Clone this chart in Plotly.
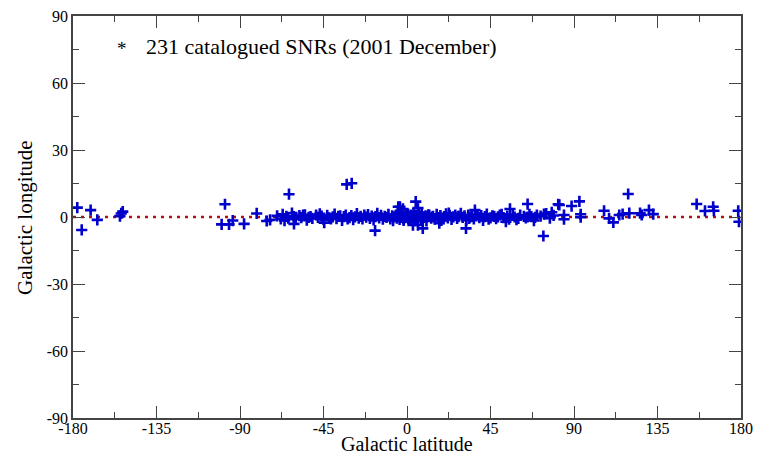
import plotly.graph_objects as go

# Galactic coordinates of catalogued SNRs (x axis labelled "Galactic latitude", y axis "Galactic longitude")
gal_x = [
    -177.7, -175.3, -170.5, -166.9, -154.7, -153.2, -154.0,
    -98.1, -99.9, -95.9, -93.9, -87.8, -81.0, -75.6, -73.8, -63.6, -32.5, -29.8, -60.9, -17.2, -44.6,
    -4.7, -3.8, -2.2, 4.7, 5.9, 3.2, 5.9, 8.5, 36.6, 31.8, 55.5, 65.0, 73.5, 68.4, 81.5, 17.4, 53.3,
    73.8, 78.0, 82.1, 84.6, 84.6, 88.7, 92.9, 93.6, 93.6, 106.2, 108.9, 111.2, 114.4, 116.2, 119.2,
    119.8, 125.6, 126.5, 130.4, 132.7, 156.1, 160.6, 165.0, 165.4, 178.5, 178.9,
    -70, -68, -67, -65, -64, -62, -61, -60, -58, -57,
    -55, -54, -52, -51, -49, -48, -46, -45, -43, -42,
    -40, -39, -38, -36, -35, -34, -33, -31, -30, -29,
    -28, -27, -26, -25, -24, -23, -22, -21, -20, -19,
    -18, -17, -16, -15, -14, -13, -12, -11, -10, -9,
    -8, -7.5, -7, -6, -5.5, -5, -4, -3.5, -3, -2.5,
    -2, -1.5, -1, -0.5, 0, 0.3, 0.7, 1, 1.5, 2,
    2.5, 3, 3.5, 4, 4.5, 5, 5.5, 6, 6.5, 7,
    7.5, 8, 9, 10, 10.5, 11, 12, 13, 14, 15,
    16, 17, 18, 19, 20, 21, 22, 23, 24, 25,
    26, 27, 28, 29, 30, 31, 32, 33, 34, 35,
    36, 38, 39, 40, 41, 42, 43, 45, 46, 48,
    49, 50, 52, 54, 55, 57, 58, 60, 61, 63,
    64, 66, 67, 69, 70, 72, 75, 77, 79,
    -66, -56, -53, -47, -41, -37, -32, -4.5, -1.8, 0.5,
    1.2, 2.2, 3.2, 4.2, 5.2, 8.5, 11.5, 13.5, 18.5, 22.5,
    27.5, 33.5, 37, 44, 47, 51, 59, 65,
]
gal_y = [
    4.2, -5.8, 3.1, -1.3, 0.4, 2.4, 1.6,
    5.7, -3.3, -3.3, -1.6, -3.1, 1.6, -1.8, -1.3, 10.2, 14.6, 15.1, -3.1, -6.1, -2.5,
    4.6, 4.6, 3.6, 6.9, 4.0, -3.6, -3.6, -5.1, 3.1, -5.1, 3.6, 5.8, -8.5, -1.6, 5.7, -2.8, -2.1,
    1.3, 2.1, 5.4, 0.9, -1.0, 4.9, 7.0, 1.2, -0.1, 2.8, -0.6, -2.4, 0.9, 1.3, 10.3,
    1.7, 1.7, 0.9, 3.1, 1.3, 5.8, 2.7, 4.6, 2.8, 2.8, -2.1,
    0.5, -0.8, 1.2, 0.3, -0.5, 1.8, 0.2, -1.0, 0.6, -0.3,
    1.0, -1.4, 0.2, -0.6, 0.9, -0.2, 0.4, -1.1, 0.7, -0.4,
    0.1, 1.3, -0.7, 0.5, -1.5, 0.2, 0.9, -0.3, 0.6, -1.2,
    0.1, 1.5, -0.5, 0.3, -0.9, 0.8, -0.1, 1.1, -0.6, 0.4,
    -1.3, 0.2, 1.6, -0.4, 0.7, -1.0, 0.3, -0.2, 1.2, -0.8,
    0.5, -1.6, 0.1, 0.9, -0.5, 1.7, -1.1, 0.3, -0.2, 0.8,
    -0.9, 0.4, -0.3, 1.0, -0.1, 0.6, -0.7, 0.2, -1.4, 0.9,
    -0.4, 0.3, 1.5, -0.8, 0.1, -1.2, 0.7, -0.3, 2.0, 0.4,
    -0.6, 1.1, -0.2, 0.5, -1.7, 0.0, 0.8, -0.5, 0.3, -1.0,
    1.2, -0.3, 0.6, -0.8, 0.2, 1.4, -0.4, 0.7, -1.1, 0.1,
    0.9, -0.6, 0.4, 1.6, -0.2, 0.5, -1.3, 0.8, -0.1, 0.3,
    -0.9, 1.0, -0.3, 0.6, -1.5, 0.2, 1.3, -0.4, 0.5, -0.7,
    0.1, 0.9, -0.3, 0.4, -1.0, 1.1, 0.0, -0.6, 0.8, 0.3,
    -0.4, 1.2, 0.2, -0.2, 0.9, 0.4, 1.5, -0.5, 0.7,
    -1.6, 0.9, -0.2, 1.4, -0.9, 0.3, -0.8, 0.6, -1.5, 1.3,
    -0.4, 0.2, -1.0, 0.8, -0.2, -1.4, 1.0, 0.0, -1.5, 1.8,
    0.2, -0.6, 0.5, -1.0, 0.3, 1.2, -1.2, 0.0,
]

x_ticks = [-180, -135, -90, -45, 0, 45, 90, 135, 180]
y_ticks = [-90, -60, -30, 0, 30, 60, 90]
ref_x = [-180, 180]
ref_y = [0, 0]
legend_text = "231 catalogued SNRs (2001 December)"
x_title = "Galactic latitude"
y_title = "Galactic longitude"

FONT = "Times New Roman"
AXC = "#444444"

fig = go.Figure()
fig.add_trace(go.Scatter(
    x=ref_x, y=ref_y, mode="lines",
    line=dict(color="#b01010", width=2.5, dash="3px,5px"),
    showlegend=False, hoverinfo="skip",
))
fig.add_trace(go.Scatter(
    x=gal_x, y=gal_y, mode="markers",
    marker=dict(symbol="cross-thin", size=8, line=dict(width=2.6, color="#0000cc"), color="#0000cc"),
    showlegend=False,
))

axis_common = dict(
    showline=True, linecolor=AXC, linewidth=1.5, mirror="ticks",
    ticks="inside", ticklen=12, tickwidth=1.3, tickcolor=AXC,
    showgrid=False, zeroline=False, automargin=False,
    ticklabeloverflow="allow",
    tickfont=dict(family=FONT, size=16, color="black"),
)

# the page body adds an 8px offset, so the figure is 8px smaller than the window
fig.update_layout(
    width=757, height=449,
    margin=dict(l=65, r=24, t=8, b=39),
    paper_bgcolor="white", plot_bgcolor="white",
    font=dict(family=FONT, color="black"),
    xaxis=dict(
        range=[-180, 180], tickvals=x_ticks, ticktext=[str(v) for v in x_ticks],
        minor=dict(ticks="inside", ticklen=6, tickwidth=1.3, tickcolor=AXC, dtick=22.5, tick0=0),
        ticklabelstandoff=-5,
        **axis_common,
    ),
    yaxis=dict(
        range=[-90, 90], tickvals=y_ticks, ticktext=[str(v) for v in y_ticks],
        minor=dict(ticks="inside", ticklen=6, tickwidth=1.3, tickcolor=AXC, dtick=15, tick0=0),
        **axis_common,
    ),
    annotations=[
        dict(xref="paper", yref="paper", x=0.073, y=0.918, xanchor="center", yanchor="middle",
             text="*", showarrow=False, font=dict(family=FONT, size=19, color="black")),
        dict(xref="paper", yref="paper", x=0.107, y=0.923, xanchor="left", yanchor="middle",
             text=legend_text, showarrow=False, font=dict(family=FONT, size=22, color="black")),
        dict(xref="paper", yref="paper", x=0.5, y=-0.095, xanchor="center", yanchor="bottom",
             borderpad=0, text=x_title, showarrow=False, font=dict(family=FONT, size=20, color="black")),
        dict(xref="paper", yref="paper", x=-0.072, y=0.5, xanchor="center", yanchor="middle",
             text=y_title, textangle=-90, showarrow=False, font=dict(family=FONT, size=21, color="black")),
    ],
)

fig.write_html("out.html")
